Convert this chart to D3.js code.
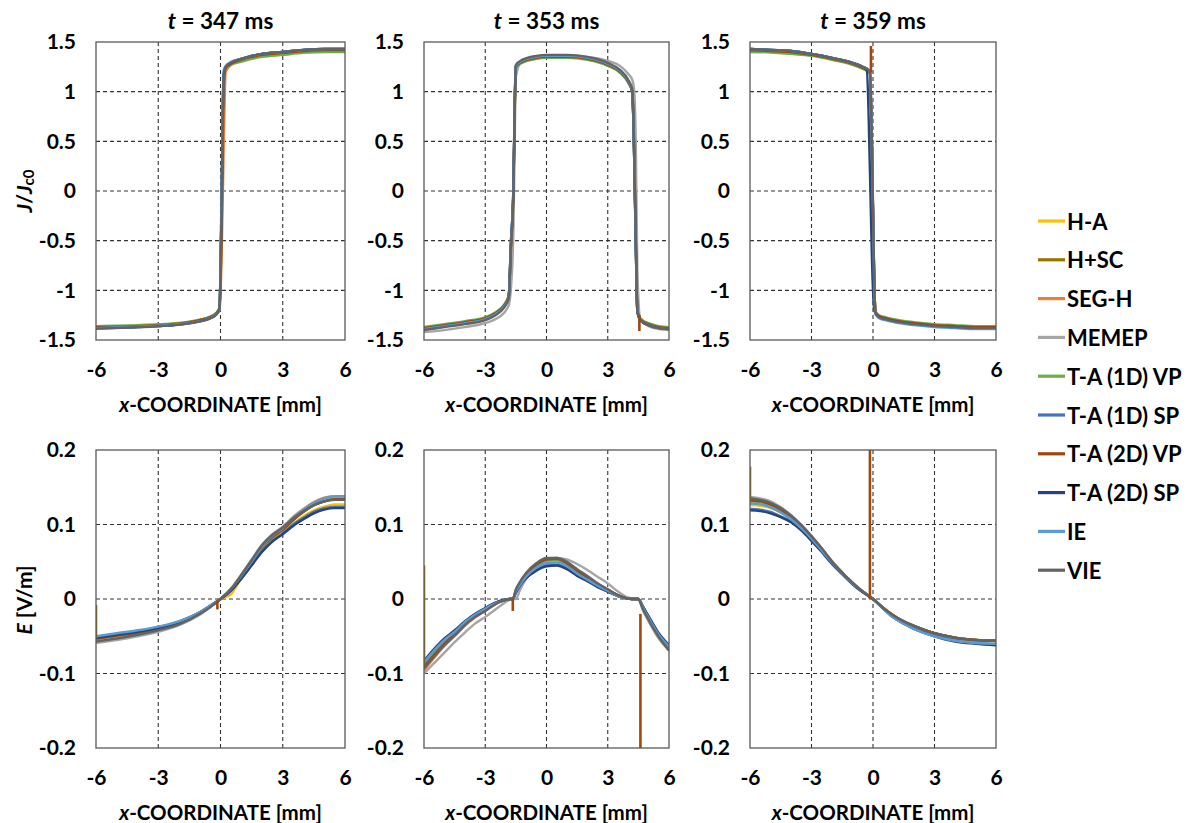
<!DOCTYPE html>
<html>
<head>
<meta charset="utf-8">
<script src="https://cdn.jsdelivr.net/npm/d3@7"></script>
<style>
  body { margin: 0; background: #fff; }
  svg { font-family: Lato, "Open Sans", sans-serif; font-weight: 700; }
</style>
</head>
<body>
<svg id="chart" width="1196" height="823"></svg>
<script>
// series, in legend order
const seriesNames = ['H-A', 'H+SC', 'SEG-H', 'MEMEP', 'T-A (1D) VP', 'T-A (1D) SP', 'T-A (2D) VP', 'T-A (2D) SP', 'IE', 'VIE'];
const seriesColors = ['#FFC000', '#997300', '#ED7D31', '#A5A5A5', '#70AD47', '#4472C4', '#9E480E', '#264478', '#5B9BD5', '#636363'];
const times = ['347', '353', '359'];

const xTicks = [-6, -3, 0, 3, 6];
const jTicks = [-1.5, -1, -0.5, 0, 0.5, 1, 1.5];
const jTickLabels = ['-1.5', '-1', '-0.5', '0', '0.5', '1', '1.5'];
const eTicks = [-0.2, -0.1, 0, 0.1, 0.2];
const eTickLabels = ['-0.2', '-0.1', '0', '0.1', '0.2'];

// J/Jc0 at t = 347 ms
const xJ347 = [-6, -5, -4, -3, -2, -1, -0.5, -0.2, -0.05, 0.05, 0.15, 0.25, 0.5, 1, 1.5, 2, 3, 4, 5, 6];
const j347 = [
  [-1.37, -1.366, -1.36, -1.35, -1.335, -1.30, -1.27, -1.23, -1.18, -0.30, 1.10, 1.24, 1.28, 1.32, 1.35, 1.37, 1.39, 1.41, 1.42, 1.42],
  [-1.37, -1.366, -1.36, -1.35, -1.335, -1.30, -1.27, -1.23, -1.18, -0.25, 1.12, 1.24, 1.28, 1.32, 1.35, 1.37, 1.39, 1.41, 1.42, 1.42],
  [-1.37, -1.366, -1.36, -1.35, -1.335, -1.30, -1.27, -1.23, -1.19, -0.70, 0.40, 1.20, 1.27, 1.32, 1.35, 1.37, 1.39, 1.41, 1.42, 1.42],
  [-1.385, -1.38, -1.372, -1.362, -1.347, -1.315, -1.285, -1.245, -1.20, -0.20, 1.15, 1.25, 1.29, 1.33, 1.36, 1.38, 1.40, 1.42, 1.43, 1.43],
  [-1.36, -1.356, -1.35, -1.342, -1.328, -1.295, -1.265, -1.225, -1.18, -0.25, 1.12, 1.23, 1.27, 1.30, 1.33, 1.35, 1.37, 1.39, 1.40, 1.40],
  [-1.38, -1.374, -1.367, -1.357, -1.342, -1.31, -1.28, -1.24, -1.19, -0.18, 1.16, 1.25, 1.29, 1.33, 1.36, 1.38, 1.40, 1.42, 1.43, 1.43],
  [-1.37, -1.366, -1.36, -1.35, -1.335, -1.30, -1.27, -1.23, -1.18, -0.45, 1.02, 1.24, 1.28, 1.32, 1.35, 1.37, 1.39, 1.41, 1.42, 1.42],
  [-1.38, -1.376, -1.37, -1.36, -1.345, -1.31, -1.28, -1.24, -1.19, -0.12, 1.18, 1.25, 1.29, 1.33, 1.36, 1.38, 1.40, 1.42, 1.43, 1.43],
  [-1.38, -1.372, -1.366, -1.356, -1.341, -1.31, -1.28, -1.24, -1.20, -0.05, 1.21, 1.26, 1.30, 1.33, 1.36, 1.38, 1.40, 1.42, 1.43, 1.43],
  [-1.385, -1.378, -1.37, -1.36, -1.345, -1.312, -1.282, -1.242, -1.19, -0.20, 1.16, 1.25, 1.29, 1.33, 1.36, 1.38, 1.40, 1.42, 1.43, 1.43]
];

// J/Jc0 at t = 353 ms
const xJ353 = [-6, -5, -4, -3, -2.5, -2.1, -1.85, -1.75, -1.62, -1.55, -1.5, -1.2, -0.5, 0, 1, 2, 3, 3.6, 4, 4.2, 4.3, 4.38, 4.45, 4.6, 5, 5.5, 6];
const j353 = [
  [-1.38, -1.35, -1.32, -1.28, -1.23, -1.16, -1.06, -0.65, -0.05, 0.85, 1.24, 1.30, 1.34, 1.35, 1.35, 1.33, 1.27, 1.20, 1.10, 1.01, 0.40, -0.45, -1.15, -1.29, -1.34, -1.37, -1.38],
  [-1.38, -1.35, -1.32, -1.28, -1.23, -1.16, -1.06, -0.60, 0.00, 0.90, 1.25, 1.30, 1.34, 1.35, 1.35, 1.33, 1.27, 1.20, 1.10, 1.00, 0.30, -0.60, -1.20, -1.29, -1.34, -1.37, -1.38],
  [-1.38, -1.35, -1.32, -1.28, -1.23, -1.16, -1.06, -0.60, 0.00, 0.90, 1.25, 1.30, 1.34, 1.35, 1.35, 1.33, 1.27, 1.20, 1.10, 1.00, 0.35, -0.55, -1.18, -1.29, -1.34, -1.37, -1.38],
  [-1.42, -1.40, -1.37, -1.33, -1.29, -1.23, -1.15, -1.00, -0.40, 0.60, 1.15, 1.31, 1.35, 1.36, 1.36, 1.35, 1.31, 1.26, 1.18, 1.12, 1.00, 0.40, -0.80, -1.30, -1.36, -1.39, -1.40],
  [-1.37, -1.34, -1.31, -1.27, -1.22, -1.15, -1.05, -0.60, 0.00, 0.90, 1.24, 1.29, 1.33, 1.34, 1.34, 1.32, 1.26, 1.19, 1.09, 0.99, 0.30, -0.60, -1.20, -1.28, -1.33, -1.36, -1.37],
  [-1.39, -1.36, -1.33, -1.29, -1.24, -1.17, -1.07, -0.55, 0.05, 0.95, 1.26, 1.31, 1.35, 1.36, 1.36, 1.34, 1.28, 1.21, 1.11, 1.01, 0.30, -0.60, -1.21, -1.30, -1.35, -1.38, -1.39],
  [-1.38, -1.35, -1.32, -1.28, -1.23, -1.16, -1.06, -0.62, -0.02, 0.88, 1.25, 1.30, 1.34, 1.35, 1.35, 1.33, 1.27, 1.20, 1.10, 1.00, 0.40, -0.50, -1.20, -1.29, -1.34, -1.37, -1.38],
  [-1.39, -1.36, -1.33, -1.29, -1.24, -1.17, -1.07, -0.55, 0.05, 0.95, 1.26, 1.31, 1.35, 1.36, 1.36, 1.34, 1.28, 1.21, 1.11, 1.01, 0.28, -0.62, -1.21, -1.30, -1.35, -1.38, -1.39],
  [-1.39, -1.36, -1.33, -1.29, -1.24, -1.17, -1.07, -0.55, 0.05, 0.95, 1.26, 1.31, 1.35, 1.36, 1.36, 1.34, 1.28, 1.21, 1.11, 1.01, 0.30, -0.60, -1.21, -1.30, -1.35, -1.38, -1.39],
  [-1.40, -1.37, -1.34, -1.30, -1.25, -1.18, -1.08, -0.58, 0.02, 0.92, 1.27, 1.32, 1.36, 1.37, 1.37, 1.35, 1.29, 1.22, 1.12, 1.02, 0.32, -0.58, -1.21, -1.30, -1.35, -1.38, -1.39]
];

// J/Jc0 at t = 359 ms
const xJ359 = [-6, -5, -4, -3, -2, -1, -0.5, -0.3, -0.15, -0.05, 0.05, 0.12, 0.3, 0.6, 1, 2, 3, 4, 5, 6];
const j359 = [
  [1.42, 1.41, 1.40, 1.37, 1.33, 1.28, 1.24, 1.22, 1.19, 0.40, -0.80, -1.22, -1.26, -1.28, -1.30, -1.33, -1.35, -1.36, -1.37, -1.37],
  [1.42, 1.41, 1.40, 1.37, 1.33, 1.28, 1.24, 1.22, 1.19, 0.40, -0.80, -1.22, -1.26, -1.28, -1.30, -1.33, -1.35, -1.36, -1.37, -1.37],
  [1.42, 1.41, 1.40, 1.37, 1.33, 1.28, 1.24, 1.22, 1.18, 0.50, -0.75, -1.22, -1.26, -1.28, -1.30, -1.33, -1.35, -1.36, -1.37, -1.37],
  [1.43, 1.42, 1.41, 1.38, 1.34, 1.29, 1.25, 1.23, 1.20, 0.45, -0.80, -1.23, -1.27, -1.29, -1.31, -1.34, -1.36, -1.37, -1.38, -1.38],
  [1.40, 1.395, 1.38, 1.36, 1.32, 1.27, 1.23, 1.21, 1.18, 0.40, -0.80, -1.21, -1.25, -1.27, -1.29, -1.32, -1.34, -1.35, -1.36, -1.36],
  [1.43, 1.42, 1.41, 1.38, 1.34, 1.29, 1.25, 1.23, 1.20, 0.45, -0.80, -1.23, -1.27, -1.29, -1.31, -1.34, -1.36, -1.37, -1.38, -1.38],
  [1.42, 1.41, 1.40, 1.37, 1.33, 1.28, 1.24, 1.22, 1.19, 0.40, -0.80, -1.22, -1.26, -1.28, -1.30, -1.33, -1.35, -1.36, -1.37, -1.37],
  [1.43, 1.42, 1.41, 1.38, 1.34, 1.29, 1.25, 1.21, 0.20, -0.70, -1.18, -1.23, -1.27, -1.29, -1.31, -1.34, -1.36, -1.37, -1.38, -1.38],
  [1.43, 1.42, 1.41, 1.38, 1.34, 1.29, 1.25, 1.23, 1.20, 0.45, -0.85, -1.24, -1.28, -1.30, -1.32, -1.35, -1.37, -1.38, -1.39, -1.39],
  [1.43, 1.42, 1.41, 1.38, 1.34, 1.29, 1.25, 1.23, 1.20, 0.45, -0.80, -1.23, -1.27, -1.29, -1.31, -1.34, -1.36, -1.37, -1.38, -1.38]
];

// E [V/m] at t = 347 ms
const xE347 = [-6, -5, -4, -3, -2, -1, -0.5, 0, 0.5, 1, 1.5, 2, 2.5, 3, 3.5, 4, 4.5, 5, 5.5, 6];
const e347 = [
  [-0.053, -0.049, -0.045, -0.040, -0.032, -0.019, -0.010, 0, 0.006, 0.028, 0.048, 0.067, 0.081, 0.090, 0.101, 0.111, 0.119, 0.124, 0.127, 0.127],
  [-0.053, -0.049, -0.045, -0.040, -0.032, -0.019, -0.010, 0, 0.013, 0.031, 0.050, 0.069, 0.083, 0.093, 0.106, 0.117, 0.126, 0.131, 0.133, 0.133],
  [-0.054, -0.050, -0.046, -0.041, -0.033, -0.020, -0.010, 0, 0.013, 0.031, 0.051, 0.071, 0.086, 0.096, 0.110, 0.121, 0.130, 0.136, 0.138, 0.137],
  [-0.059, -0.055, -0.050, -0.044, -0.035, -0.021, -0.011, 0, 0.014, 0.033, 0.053, 0.073, 0.087, 0.097, 0.110, 0.120, 0.128, 0.133, 0.135, 0.135],
  [-0.053, -0.049, -0.045, -0.040, -0.032, -0.019, -0.010, 0, 0.013, 0.031, 0.050, 0.069, 0.083, 0.093, 0.106, 0.117, 0.126, 0.131, 0.134, 0.134],
  [-0.051, -0.047, -0.043, -0.038, -0.030, -0.018, -0.009, 0, 0.011, 0.028, 0.046, 0.064, 0.078, 0.088, 0.100, 0.109, 0.117, 0.122, 0.124, 0.124],
  [-0.053, -0.049, -0.045, -0.040, -0.032, -0.019, -0.010, 0, 0.013, 0.031, 0.050, 0.069, 0.083, 0.093, 0.106, 0.117, 0.126, 0.131, 0.134, 0.134],
  [-0.052, -0.048, -0.044, -0.039, -0.031, -0.018, -0.009, 0, 0.011, 0.027, 0.045, 0.063, 0.077, 0.087, 0.098, 0.107, 0.115, 0.120, 0.122, 0.122],
  [-0.050, -0.046, -0.042, -0.037, -0.030, -0.018, -0.009, 0, 0.013, 0.031, 0.050, 0.070, 0.085, 0.095, 0.109, 0.120, 0.129, 0.135, 0.138, 0.138],
  [-0.057, -0.053, -0.048, -0.042, -0.034, -0.020, -0.011, 0, 0.013, 0.032, 0.052, 0.072, 0.086, 0.096, 0.108, 0.118, 0.126, 0.131, 0.133, 0.133]
];

// E [V/m] at t = 353 ms
const xE353 = [-6, -5.5, -5, -4.5, -4, -3.5, -3, -2.5, -2.2, -2, -1.8, -1.65, -1.5, -1.3, -1, -0.5, 0, 0.5, 1, 1.5, 2, 2.5, 3, 3.5, 3.9, 4.2, 4.5, 4.7, 5, 5.5, 6];
const e353 = [
  [-0.089, -0.073, -0.059, -0.046, -0.033, -0.023, -0.015, -0.006, -0.003, -0.001, 0, 0, 0.009, 0.019, 0.030, 0.043, 0.049, 0.050, 0.045, 0.035, 0.027, 0.018, 0.011, 0.004, 0.001, 0, 0, -0.009, -0.024, -0.047, -0.064],
  [-0.087, -0.071, -0.057, -0.045, -0.032, -0.022, -0.014, -0.006, -0.003, -0.001, 0, 0, 0.011, 0.021, 0.032, 0.045, 0.052, 0.053, 0.047, 0.037, 0.028, 0.019, 0.012, 0.005, 0.001, 0, 0, -0.010, -0.025, -0.048, -0.065],
  [-0.096, -0.079, -0.063, -0.050, -0.036, -0.025, -0.016, -0.007, -0.003, -0.001, 0, 0, 0.012, 0.022, 0.034, 0.047, 0.054, 0.055, 0.049, 0.039, 0.030, 0.020, 0.013, 0.005, 0.001, 0, 0, -0.011, -0.027, -0.050, -0.067],
  [-0.100, -0.086, -0.072, -0.058, -0.045, -0.033, -0.024, -0.014, -0.008, -0.004, -0.001, 0, 0, 0.012, 0.027, 0.042, 0.051, 0.055, 0.053, 0.047, 0.039, 0.030, 0.021, 0.010, 0.003, 0.001, 0, -0.014, -0.030, -0.053, -0.069],
  [-0.087, -0.071, -0.057, -0.045, -0.032, -0.022, -0.014, -0.006, -0.003, -0.001, 0, 0, 0.011, 0.021, 0.032, 0.045, 0.052, 0.053, 0.047, 0.037, 0.028, 0.019, 0.012, 0.005, 0.001, 0, 0, -0.010, -0.025, -0.048, -0.065],
  [-0.084, -0.068, -0.054, -0.043, -0.030, -0.020, -0.013, -0.005, -0.002, -0.001, 0, 0, 0.009, 0.018, 0.028, 0.039, 0.045, 0.046, 0.041, 0.032, 0.025, 0.017, 0.010, 0.004, 0.001, 0, 0, -0.009, -0.024, -0.047, -0.063],
  [-0.091, -0.075, -0.060, -0.047, -0.034, -0.023, -0.015, -0.006, -0.003, -0.001, 0, 0, 0.011, 0.021, 0.033, 0.046, 0.053, 0.054, 0.048, 0.038, 0.029, 0.019, 0.012, 0.005, 0.001, 0, 0, -0.010, -0.025, -0.048, -0.065],
  [-0.083, -0.067, -0.053, -0.042, -0.030, -0.020, -0.012, -0.005, -0.002, -0.001, 0, 0, 0.008, 0.018, 0.028, 0.038, 0.044, 0.045, 0.040, 0.031, 0.024, 0.016, 0.010, 0.004, 0.001, 0, 0, -0.009, -0.023, -0.046, -0.062],
  [-0.085, -0.069, -0.055, -0.044, -0.031, -0.021, -0.013, -0.006, -0.003, -0.001, 0, 0, 0.010, 0.019, 0.030, 0.042, 0.048, 0.049, 0.044, 0.034, 0.026, 0.018, 0.011, 0.004, 0.001, 0, 0, -0.010, -0.025, -0.048, -0.064],
  [-0.093, -0.077, -0.062, -0.049, -0.035, -0.024, -0.016, -0.007, -0.003, -0.001, 0, 0, 0.013, 0.023, 0.035, 0.048, 0.055, 0.055, 0.050, 0.040, 0.031, 0.021, 0.013, 0.005, 0.001, 0, 0, -0.012, -0.028, -0.051, -0.069]
];

// E [V/m] at t = 359 ms
const xE359 = [-6, -5.5, -5, -4.5, -4, -3.5, -3, -2.5, -2, -1.5, -1, -0.5, 0, 0.5, 1, 1.5, 2, 3, 4, 5, 6];
const e359 = [
  [0.126, 0.125, 0.122, 0.116, 0.108, 0.096, 0.082, 0.066, 0.049, 0.035, 0.021, 0.010, 0, -0.012, -0.023, -0.031, -0.037, -0.047, -0.053, -0.056, -0.057],
  [0.131, 0.130, 0.126, 0.119, 0.110, 0.098, 0.083, 0.067, 0.050, 0.035, 0.021, 0.010, 0, -0.012, -0.022, -0.030, -0.036, -0.046, -0.052, -0.055, -0.056],
  [0.133, 0.131, 0.127, 0.120, 0.111, 0.099, 0.084, 0.067, 0.050, 0.035, 0.022, 0.010, 0, -0.012, -0.022, -0.030, -0.036, -0.046, -0.052, -0.055, -0.056],
  [0.137, 0.135, 0.131, 0.123, 0.113, 0.100, 0.085, 0.068, 0.051, 0.036, 0.022, 0.010, 0, -0.012, -0.022, -0.030, -0.036, -0.046, -0.052, -0.055, -0.056],
  [0.132, 0.130, 0.126, 0.119, 0.110, 0.098, 0.083, 0.067, 0.050, 0.035, 0.021, 0.010, 0, -0.012, -0.022, -0.030, -0.036, -0.046, -0.052, -0.055, -0.056],
  [0.121, 0.120, 0.117, 0.111, 0.104, 0.093, 0.079, 0.064, 0.048, 0.034, 0.020, 0.009, 0, -0.013, -0.024, -0.032, -0.039, -0.049, -0.056, -0.059, -0.061],
  [0.132, 0.131, 0.127, 0.120, 0.111, 0.099, 0.084, 0.067, 0.050, 0.035, 0.021, 0.010, 0, -0.012, -0.022, -0.030, -0.036, -0.046, -0.052, -0.055, -0.056],
  [0.119, 0.118, 0.115, 0.110, 0.103, 0.092, 0.078, 0.063, 0.047, 0.033, 0.020, 0.009, 0, -0.013, -0.025, -0.033, -0.040, -0.050, -0.057, -0.060, -0.062],
  [0.128, 0.127, 0.123, 0.116, 0.107, 0.095, 0.081, 0.065, 0.049, 0.034, 0.021, 0.010, 0, -0.013, -0.025, -0.033, -0.040, -0.050, -0.056, -0.059, -0.060],
  [0.135, 0.133, 0.129, 0.122, 0.112, 0.099, 0.084, 0.068, 0.050, 0.035, 0.022, 0.010, 0, -0.012, -0.022, -0.030, -0.036, -0.046, -0.052, -0.055, -0.056]
];

// single-point numerical spikes (panel index, series index, x, from y, to y)
const spikePanel = [2, 1, 3, 3, 4, 4, 4, 5, 5];
const spikeSeries = [6, 6, 1, 6, 1, 6, 6, 6, 1];
const spikeX = [-0.1, 4.55, -6, -0.15, -6, -1.65, 4.6, -0.15, -6];
const spikeFrom = [1.19, -1.25, -0.052, -0.002, -0.09, 0, -0.02, 0, 0.13];
const spikeTo = [1.46, -1.41, -0.008, -0.014, 0.045, -0.016, -0.2, 0.2, 0.178];

// layout
const colLeft = [96, 424, 750];
const colWidth = [249, 245, 246];
const rowTop = [42, 450];
const rowHeight = 298;

const svg = d3.select('#chart');

const panels = [
  { row: 0, col: 0, xs: xJ347, ys: j347 },
  { row: 0, col: 1, xs: xJ353, ys: j353 },
  { row: 0, col: 2, xs: xJ359, ys: j359 },
  { row: 1, col: 0, xs: xE347, ys: e347 },
  { row: 1, col: 1, xs: xE353, ys: e353 },
  { row: 1, col: 2, xs: xE359, ys: e359 }
];

panels.forEach((p, pi) => {
  const w = colWidth[p.col];
  const h = rowHeight;
  const g = svg.append('g').attr('transform', `translate(${colLeft[p.col]},${rowTop[p.row]})`);
  const x = d3.scaleLinear().domain([-6, 6]).range([0, w]);
  const yDomain = p.row === 0 ? [-1.5, 1.5] : [-0.2, 0.2];
  const y = d3.scaleLinear().domain(yDomain).range([h, 0]);
  const yTicks = p.row === 0 ? jTicks : eTicks;
  const yLabels = p.row === 0 ? jTickLabels : eTickLabels;

  // dashed grid
  g.selectAll('.gx')
    .data(xTicks.slice(1, -1))
    .join('line')
    .attr('x1', d => x(d)).attr('x2', d => x(d))
    .attr('y1', 0).attr('y2', h)
    .attr('stroke', '#333').attr('stroke-width', 1.1).attr('stroke-dasharray', '4,3');
  g.selectAll('.gy')
    .data(yTicks.slice(1, -1))
    .join('line')
    .attr('x1', 0).attr('x2', w)
    .attr('y1', d => y(d)).attr('y2', d => y(d))
    .attr('stroke', '#333').attr('stroke-width', 1.1).attr('stroke-dasharray', '4,3');

  // clip
  const clipId = 'clip' + pi;
  g.append('clipPath').attr('id', clipId)
    .append('rect').attr('x', 0).attr('y', 0).attr('width', w).attr('height', h);

  const line = d3.line()
    .x((d, i) => x(p.xs[i]))
    .y(d => y(d))
    .curve(d3.curveMonotoneX);

  const lines = g.append('g').attr('clip-path', `url(#${clipId})`);
  lines.selectAll('path')
    .data(p.ys)
    .join('path')
    .attr('d', line)
    .attr('fill', 'none')
    .attr('stroke', (d, i) => seriesColors[i])
    .attr('stroke-width', 2.4)
    .attr('stroke-linejoin', 'round');

  // spikes belonging to this panel
  const spikes = spikePanel.map((sp, k) => k).filter(k => spikePanel[k] === pi);
  lines.selectAll('.spike')
    .data(spikes)
    .join('line')
    .attr('x1', k => x(spikeX[k])).attr('x2', k => x(spikeX[k]))
    .attr('y1', k => y(spikeFrom[k])).attr('y2', k => y(spikeTo[k]))
    .attr('stroke', k => seriesColors[spikeSeries[k]])
    .attr('stroke-width', 2.6);

  // frame
  g.append('rect').attr('width', w).attr('height', h)
    .attr('fill', 'none').attr('stroke', '#595959').attr('stroke-width', 1.3);

  // axes
  const yAxis = d3.axisLeft(y).tickValues(yTicks).tickFormat((d, i) => yLabels[i]).tickSize(0).tickPadding(20);
  const ya = g.append('g').call(yAxis);
  ya.select('.domain').remove();
  ya.selectAll('text').attr('font-size', 21).attr('font-family', 'Lato, sans-serif').attr('font-weight', 700).attr('fill', '#000');

  const xAxis = d3.axisBottom(x).tickValues(xTicks).tickFormat(d => String(d).replace('\u2212', '-')).tickSize(0).tickPadding(22);
  const xa = g.append('g').attr('transform', `translate(0,${h})`).call(xAxis);
  xa.select('.domain').remove();
  xa.selectAll('text').attr('font-size', 21).attr('font-family', 'Lato, sans-serif').attr('font-weight', 700).attr('fill', '#000');

  // x title
  const xt = g.append('text')
    .attr('x', w / 2).attr('y', h + 64)
    .attr('text-anchor', 'middle').attr('dominant-baseline', 'central')
    .attr('font-size', 20.5);
  xt.append('tspan').attr('font-style', 'italic').text('x');
  xt.append('tspan').text('-COORDINATE [mm]');

  // panel title
  if (p.row === 0) {
    const tt = svg.append('text')
      .attr('x', colLeft[p.col] + w / 2).attr('y', 20)
      .attr('text-anchor', 'middle').attr('dominant-baseline', 'central')
      .attr('font-size', 22.5);
    tt.append('tspan').attr('font-style', 'italic').text('t');
    tt.append('tspan').text(` = ${times[p.col]} ms`);
  }
});

// y titles
const jTitle = svg.append('text')
  .attr('transform', 'translate(23,191) rotate(-90)')
  .attr('text-anchor', 'middle').attr('dominant-baseline', 'central')
  .attr('font-size', 21);
jTitle.append('tspan').attr('font-style', 'italic').text('J');
jTitle.append('tspan').text('/');
jTitle.append('tspan').attr('font-style', 'italic').text('J');
jTitle.append('tspan').attr('font-size', 15).attr('dy', 5).text('c0');

const eTitle = svg.append('text')
  .attr('transform', 'translate(23,600) rotate(-90)')
  .attr('text-anchor', 'middle').attr('dominant-baseline', 'central')
  .attr('font-size', 21);
eTitle.append('tspan').attr('font-style', 'italic').text('E');
eTitle.append('tspan').text(' [V/m]');

// legend
const legend = svg.append('g').attr('transform', 'translate(1038,221)');
const item = legend.selectAll('g')
  .data(seriesNames)
  .join('g')
  .attr('transform', (d, i) => `translate(0,${i * 38.8})`);
item.append('line')
  .attr('x1', 0).attr('x2', 27)
  .attr('stroke', (d, i) => seriesColors[i])
  .attr('stroke-width', 3.2);
item.append('text')
  .attr('x', 29)
  .attr('dominant-baseline', 'central')
  .attr('font-size', 22)
  .text(d => d);
</script>
</body>
</html>
